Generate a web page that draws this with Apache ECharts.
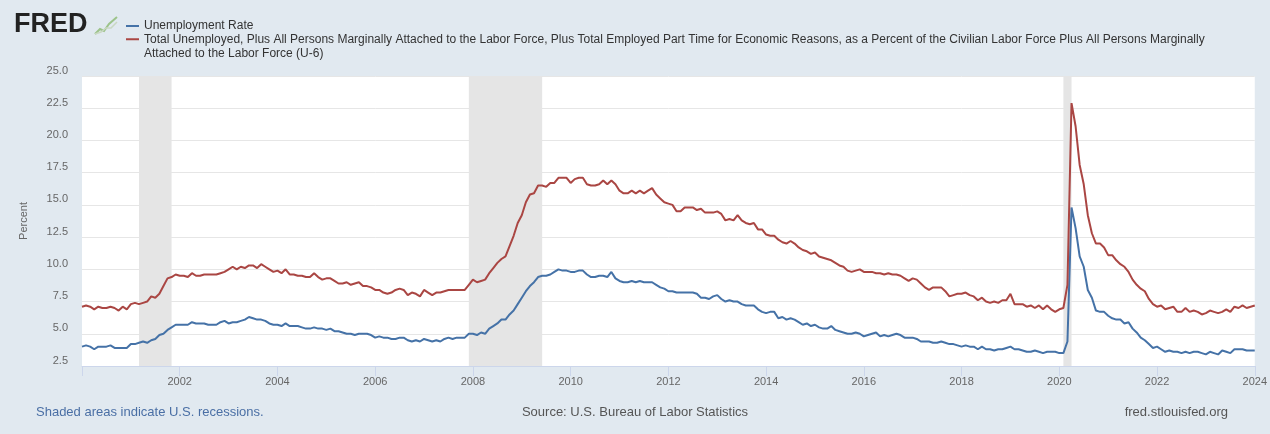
<!DOCTYPE html>
<html><head><meta charset="utf-8">
<script src="https://cdn.jsdelivr.net/npm/echarts@6/dist/echarts.min.js"></script>
<style>html,body{margin:0;padding:0;background:#e1e9f0;}#c{width:1270px;height:434px;}</style>
</head><body><div id="c"></div>
<script>
// Monthly data, Jan 2000 .. Jan 2024
const startYear = 2000;
const unrate = [
4.0,4.1,4.0,3.8,4.0,4.0,4.0,4.1,3.9,3.9,3.9,3.9,
4.2,4.2,4.3,4.4,4.3,4.5,4.6,4.9,5.0,5.3,5.5,5.7,
5.7,5.7,5.7,5.9,5.8,5.8,5.8,5.7,5.7,5.7,5.9,6.0,
5.8,5.9,5.9,6.0,6.1,6.3,6.2,6.1,6.1,6.0,5.8,5.7,
5.7,5.6,5.8,5.6,5.6,5.6,5.5,5.4,5.4,5.5,5.4,5.4,
5.3,5.4,5.2,5.2,5.1,5.0,5.0,4.9,5.0,5.0,5.0,4.9,
4.7,4.8,4.7,4.7,4.6,4.6,4.7,4.7,4.5,4.4,4.5,4.4,
4.6,4.5,4.4,4.5,4.4,4.6,4.7,4.6,4.7,4.7,4.7,5.0,
5.0,4.9,5.1,5.0,5.4,5.6,5.8,6.1,6.1,6.5,6.8,7.3,
7.8,8.3,8.7,9.0,9.4,9.5,9.5,9.6,9.8,10.0,9.9,9.9,
9.8,9.8,9.9,9.9,9.6,9.4,9.4,9.5,9.5,9.4,9.8,9.3,
9.1,9.0,9.0,9.1,9.0,9.1,9.0,9.0,9.0,8.8,8.6,8.5,
8.3,8.3,8.2,8.2,8.2,8.2,8.2,8.1,7.8,7.8,7.7,7.9,
8.0,7.7,7.5,7.6,7.5,7.5,7.3,7.2,7.2,7.2,6.9,6.7,
6.6,6.7,6.7,6.2,6.3,6.1,6.2,6.1,5.9,5.7,5.8,5.6,
5.7,5.5,5.4,5.4,5.6,5.3,5.2,5.1,5.0,5.0,5.1,5.0,
4.8,4.9,5.0,5.1,4.8,4.9,4.8,4.9,5.0,4.9,4.7,4.7,
4.7,4.6,4.4,4.4,4.4,4.3,4.3,4.4,4.3,4.2,4.2,4.1,
4.0,4.1,4.0,4.0,3.8,4.0,3.8,3.8,3.7,3.8,3.8,3.9,
4.0,3.8,3.8,3.7,3.6,3.6,3.7,3.6,3.5,3.6,3.6,3.6,
3.5,3.5,4.4,14.8,13.2,11.0,10.2,8.4,7.8,6.8,6.7,6.7,
6.4,6.2,6.1,6.1,5.8,5.9,5.4,5.1,4.7,4.5,4.2,3.9,
4.0,3.8,3.6,3.7,3.6,3.6,3.5,3.6,3.5,3.6,3.6,3.5,
3.4,3.6,3.5,3.4,3.7,3.6,3.5,3.8,3.8,3.8,3.7,3.7,
3.7
];
const u6 = [
7.1,7.2,7.1,6.9,7.1,7.0,7.0,7.1,7.0,6.8,7.1,6.9,
7.3,7.4,7.3,7.4,7.5,7.9,7.8,8.1,8.7,9.3,9.4,9.6,
9.5,9.5,9.4,9.7,9.5,9.5,9.6,9.6,9.6,9.6,9.7,9.8,
10.0,10.2,10.0,10.2,10.1,10.3,10.3,10.1,10.4,10.2,10.0,9.8,
9.9,9.7,10.0,9.6,9.6,9.5,9.5,9.4,9.4,9.7,9.4,9.2,
9.3,9.3,9.1,8.9,8.9,9.0,8.8,8.9,9.0,8.7,8.7,8.6,
8.4,8.4,8.2,8.1,8.2,8.4,8.5,8.4,8.0,8.2,8.1,7.9,
8.4,8.2,8.0,8.2,8.2,8.3,8.4,8.4,8.4,8.4,8.4,8.8,
9.2,9.0,9.1,9.2,9.7,10.1,10.5,10.8,11.0,11.8,12.6,13.6,
14.2,15.2,15.8,15.9,16.5,16.5,16.4,16.7,16.7,17.1,17.1,17.1,
16.7,17.0,17.1,17.1,16.6,16.5,16.5,16.6,16.9,16.6,16.9,16.6,
16.1,15.9,15.9,16.1,15.9,16.1,15.9,16.1,16.3,15.8,15.5,15.2,
15.1,15.0,14.5,14.5,14.8,14.8,14.8,14.6,14.7,14.4,14.4,14.4,
14.5,14.3,13.8,13.9,13.8,14.2,13.8,13.6,13.5,13.6,13.1,13.1,
12.7,12.6,12.6,12.3,12.1,12.0,12.2,12.0,11.7,11.5,11.4,11.2,
11.3,11.0,10.9,10.8,10.7,10.5,10.3,10.2,9.9,9.8,9.9,10.0,
9.8,9.8,9.8,9.7,9.7,9.6,9.7,9.6,9.6,9.5,9.3,9.1,
9.3,9.2,8.9,8.6,8.4,8.6,8.6,8.6,8.3,7.9,8.0,8.1,
8.1,8.2,8.0,7.9,7.6,7.8,7.5,7.4,7.5,7.4,7.6,7.6,
8.1,7.3,7.3,7.3,7.1,7.2,7.0,7.2,6.9,7.2,6.9,6.7,
6.9,7.0,8.8,22.9,21.1,18.1,16.6,14.2,12.8,12.0,12.0,11.7,
11.1,11.1,10.7,10.4,10.2,9.8,9.2,8.8,8.5,8.3,7.7,7.3,
7.1,7.2,6.9,7.0,7.1,6.7,6.7,7.0,6.7,6.8,6.7,6.5,
6.6,6.8,6.7,6.6,6.7,6.9,6.7,7.1,7.0,7.2,7.0,7.1,
7.2
];
const recessions = [['2001-03','2001-11'],['2007-12','2009-06'],['2020-02','2020-04']];
const seriesNames = [
  'Unemployment Rate',
  'Total Unemployed, Plus All Persons Marginally Attached to the Labor Force, Plus Total Employed Part Time for Economic Reasons, as a Percent of the Civilian Labor Force Plus All Persons Marginally Attached to the Labor Force (U-6)'
];
const xRange = [2000, 2024];
const yRange = [2.5, 25];

function monthToYear(s){ const p = s.split('-'); return +p[0] + (+p[1]-1)/12; }
function toPoints(arr){ return arr.map((v,i)=>[startYear + i/12, v]); }

const font = '"Liberation Sans", Arial, sans-serif';
const chart = echarts.init(document.getElementById('c'));
chart.setOption({
  animation: false,
  backgroundColor: '#e1e9f0',
  textStyle: {fontFamily: font},
  grid: {left: 82, right: 13, top: 76, bottom: 68, show: true, backgroundColor: '#ffffff', borderWidth: 0},
  legend: [
    {
      data: [seriesNames[0]], left: 126, top: 19, orient: 'vertical', selectedMode: false,
      icon: 'rect', itemWidth: 13, itemHeight: 2, itemGap: 0, padding: 0,
      textStyle: {fontFamily: font, fontSize: 12, color: '#333', lineHeight: 14}
    },
    {
      data: [seriesNames[1]], left: 126, top: 17.5, orient: 'vertical', selectedMode: false,
      icon: 'rect', itemWidth: 13, itemHeight: 2, itemGap: 0, padding: 0,
      // leading empty line keeps the icon level with the first text line
      formatter: n => '\n' + n.replace(/ (Attached to the Labor Force \(U-6\))$/, '\n$1'),
      textStyle: {fontFamily: font, fontSize: 12, color: '#333', lineHeight: 14.5}
    }
  ],
  xAxis: {
    type: 'value', min: xRange[0], max: xRange[1], interval: 2,
    axisLine: {show: true, lineStyle: {color: '#ccd6eb'}},
    axisTick: {show: true, length: 10, lineStyle: {color: '#ccd6eb'}},
    splitLine: {show: false},
    axisLabel: {
      margin: 10, fontSize: 11, color: '#666', fontFamily: font,
      formatter: v => (v === xRange[0] ? '' : String(v))
    }
  },
  yAxis: {
    type: 'value', min: yRange[0], max: yRange[1], interval: 2.5,
    name: 'Percent', nameLocation: 'middle', nameGap: 53,
    nameTextStyle: {fontSize: 11, color: '#666', fontFamily: font},
    axisLine: {show: false}, axisTick: {show: false},
    splitLine: {lineStyle: {color: '#e6e6e6', width: 1}},
    axisLabel: {margin: 14, fontSize: 11, color: '#666', fontFamily: font, verticalAlign: 'bottom',
      formatter: v => v.toFixed(1)}
  },
  series: [
    {
      type: 'line', name: 'recessions', data: [], z: 1, silent: true,
      markArea: {silent: true, itemStyle: {color: '#e5e5e5'},
        data: recessions.map(r => [{xAxis: monthToYear(r[0])}, {xAxis: monthToYear(r[1])}])}
    },
    {
      type: 'line', name: seriesNames[0], data: toPoints(unrate), z: 3,
      showSymbol: false, color: '#4572a7', lineStyle: {width: 2, color: '#4572a7'}
    },
    {
      type: 'line', name: seriesNames[1], data: toPoints(u6), z: 3,
      showSymbol: false, color: '#aa4643', lineStyle: {width: 2, color: '#aa4643'}
    }
  ],
  graphic: [
    {type: 'text', left: 14, top: 11, style: {text: 'FRED', font: 'bold 27px ' + font, fill: '#222'}},
    {type: 'polyline', shape: {points: [[95,34],[100,29],[104,31],[109,24],[117,17]]}, style: {stroke: '#9cc38a', lineWidth: 2, fill: null}},
    {type: 'polyline', shape: {points: [[95,34],[101,32],[106,28],[111,28],[117,22]]}, style: {stroke: '#c9d8c2', lineWidth: 1.5, fill: null}},
    {type: 'text', left: 36, top: 406, style: {text: 'Shaded areas indicate U.S. recessions.', font: '13px ' + font, fill: '#4a6fa5'}},
    {type: 'text', left: 'center', top: 406, style: {text: 'Source: U.S. Bureau of Labor Statistics', font: '13px ' + font, fill: '#555'}},
    {type: 'text', right: 42, top: 406, style: {text: 'fred.stlouisfed.org', font: '13px ' + font, fill: '#555'}}
  ]
});
</script></body></html>
